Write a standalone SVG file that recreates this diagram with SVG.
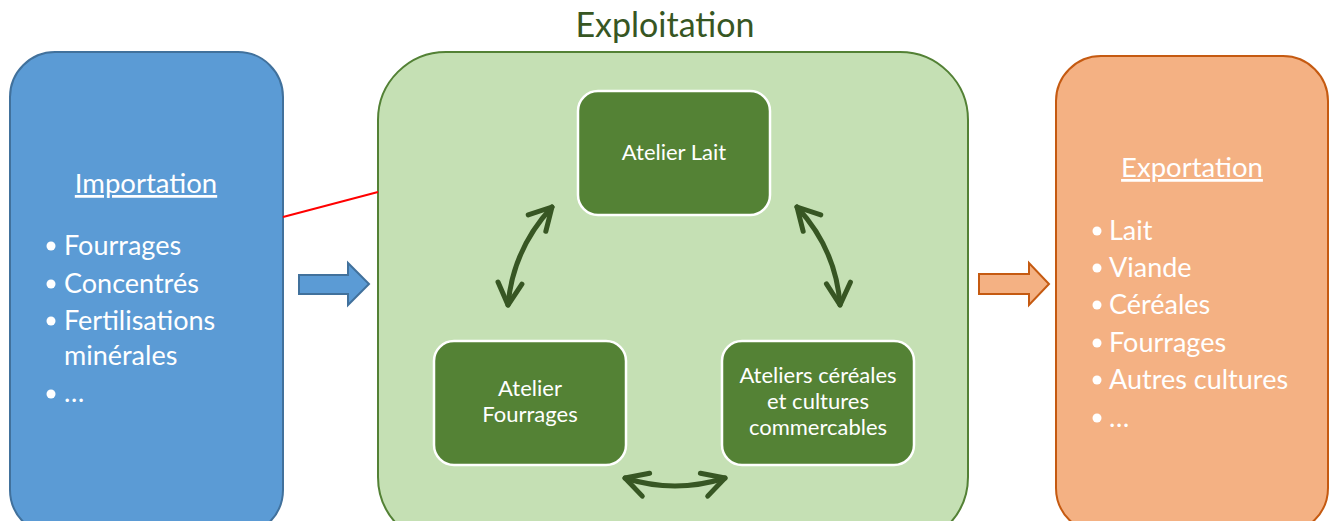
<svg xmlns="http://www.w3.org/2000/svg" width="1335" height="521" viewBox="0 0 1335 521">
<style>
.t{font-family:Lato,"Liberation Sans",sans-serif;fill:#ffffff}
.h{font-size:27.5px;text-decoration:underline}
.li{font-size:27px}
.in{font-size:22px;text-anchor:middle}
.atelier{fill:#548235;stroke:#ffffff;stroke-width:2.5}
.link{fill:none;stroke:#375623;stroke-width:5;stroke-linecap:round;marker-start:url(#chev);marker-end:url(#chev)}
</style>
<defs>
<marker id="chev" markerUnits="userSpaceOnUse" orient="auto-start-reverse" refX="0" refY="0" markerWidth="60" markerHeight="60" overflow="visible">
<path d="M-22,-12 L0,0 L-22,12" fill="none" stroke="#375623" stroke-width="5" stroke-linecap="round" stroke-linejoin="round"/>
</marker>
</defs>
<rect width="1335" height="521" fill="#ffffff"/>
<g id="importation">
<rect x="10" y="52" width="273" height="483" rx="45" fill="#5b9bd5" stroke="#41719c" stroke-width="2"/>
<text class="t h" x="146" y="193" text-anchor="middle">Importation</text>
<g fill="#ffffff"><circle cx="51" cy="246" r="4.5"/><circle cx="51" cy="284" r="4.5"/><circle cx="51" cy="321" r="4.5"/><circle cx="51" cy="394" r="4.5"/></g>
<text class="t li" x="64" y="255">Fourrages</text>
<text class="t li" x="64" y="293">Concentrés</text>
<text class="t li" x="64" y="330">Fertilisations</text>
<text class="t li" x="64" y="365">minérales</text>
<text class="t li" x="64" y="402">…</text>
</g>
<g id="exploitation">
<text x="665" y="37" font-family="Lato,'Liberation Sans',sans-serif" font-size="34" fill="#375623" text-anchor="middle">Exploitation</text>
<rect x="378" y="52" width="590" height="493" rx="68" fill="#c5e0b4" stroke="#538135" stroke-width="2"/>
</g>
<g id="atelier-lait">
<rect class="atelier" x="578" y="91" width="192" height="124" rx="20"/>
<text class="t in" x="674" y="160">Atelier Lait</text>
</g>
<g id="atelier-fourrages">
<rect class="atelier" x="434" y="341" width="192" height="124" rx="20"/>
<text class="t in" x="530" y="396">Atelier</text>
<text class="t in" x="530" y="422">Fourrages</text>
</g>
<g id="ateliers-cereales">
<rect class="atelier" x="722" y="341" width="192" height="124" rx="20"/>
<text class="t in" x="818" y="383">Ateliers céréales</text>
<text class="t in" x="818" y="409">et cultures</text>
<text class="t in" x="818" y="435">commercables</text>
</g>
<g id="exportation">
<rect x="1056" y="56" width="272" height="477" rx="45" fill="#f4b183" stroke="#c55a11" stroke-width="2"/>
<text class="t h" x="1192" y="177" text-anchor="middle">Exportation</text>
<g fill="#ffffff"><circle cx="1097" cy="231" r="4.5"/><circle cx="1097" cy="268" r="4.5"/><circle cx="1097" cy="305" r="4.5"/><circle cx="1097" cy="343" r="4.5"/><circle cx="1097" cy="380" r="4.5"/><circle cx="1097" cy="418" r="4.5"/></g>
<text class="t li" x="1109" y="240">Lait</text>
<text class="t li" x="1109" y="277">Viande</text>
<text class="t li" x="1109" y="314">Céréales</text>
<text class="t li" x="1109" y="352">Fourrages</text>
<text class="t li" x="1109" y="389">Autres cultures</text>
<text class="t li" x="1109" y="427">…</text>
</g>
<g id="connectors">
<line x1="283" y1="217" x2="378" y2="192" stroke="#ff0000" stroke-width="2"/>
<path d="M299,275 L348,275 L348,263 L369,284 L348,305 L348,294 L299,294 Z" fill="#5b9bd5" stroke="#41719c" stroke-width="2"/>
<path d="M979,274 L1029,274 L1029,263 L1049,284 L1029,305 L1029,294 L979,294 Z" fill="#f4b183" stroke="#c55a11" stroke-width="2"/>
<path class="link" d="M552,207 Q513,249 508,305"/>
<path class="link" d="M797,207 Q836,249 840,305"/>
<path class="link" d="M625,478 Q675,494 725,478"/>
</g>
</svg>
